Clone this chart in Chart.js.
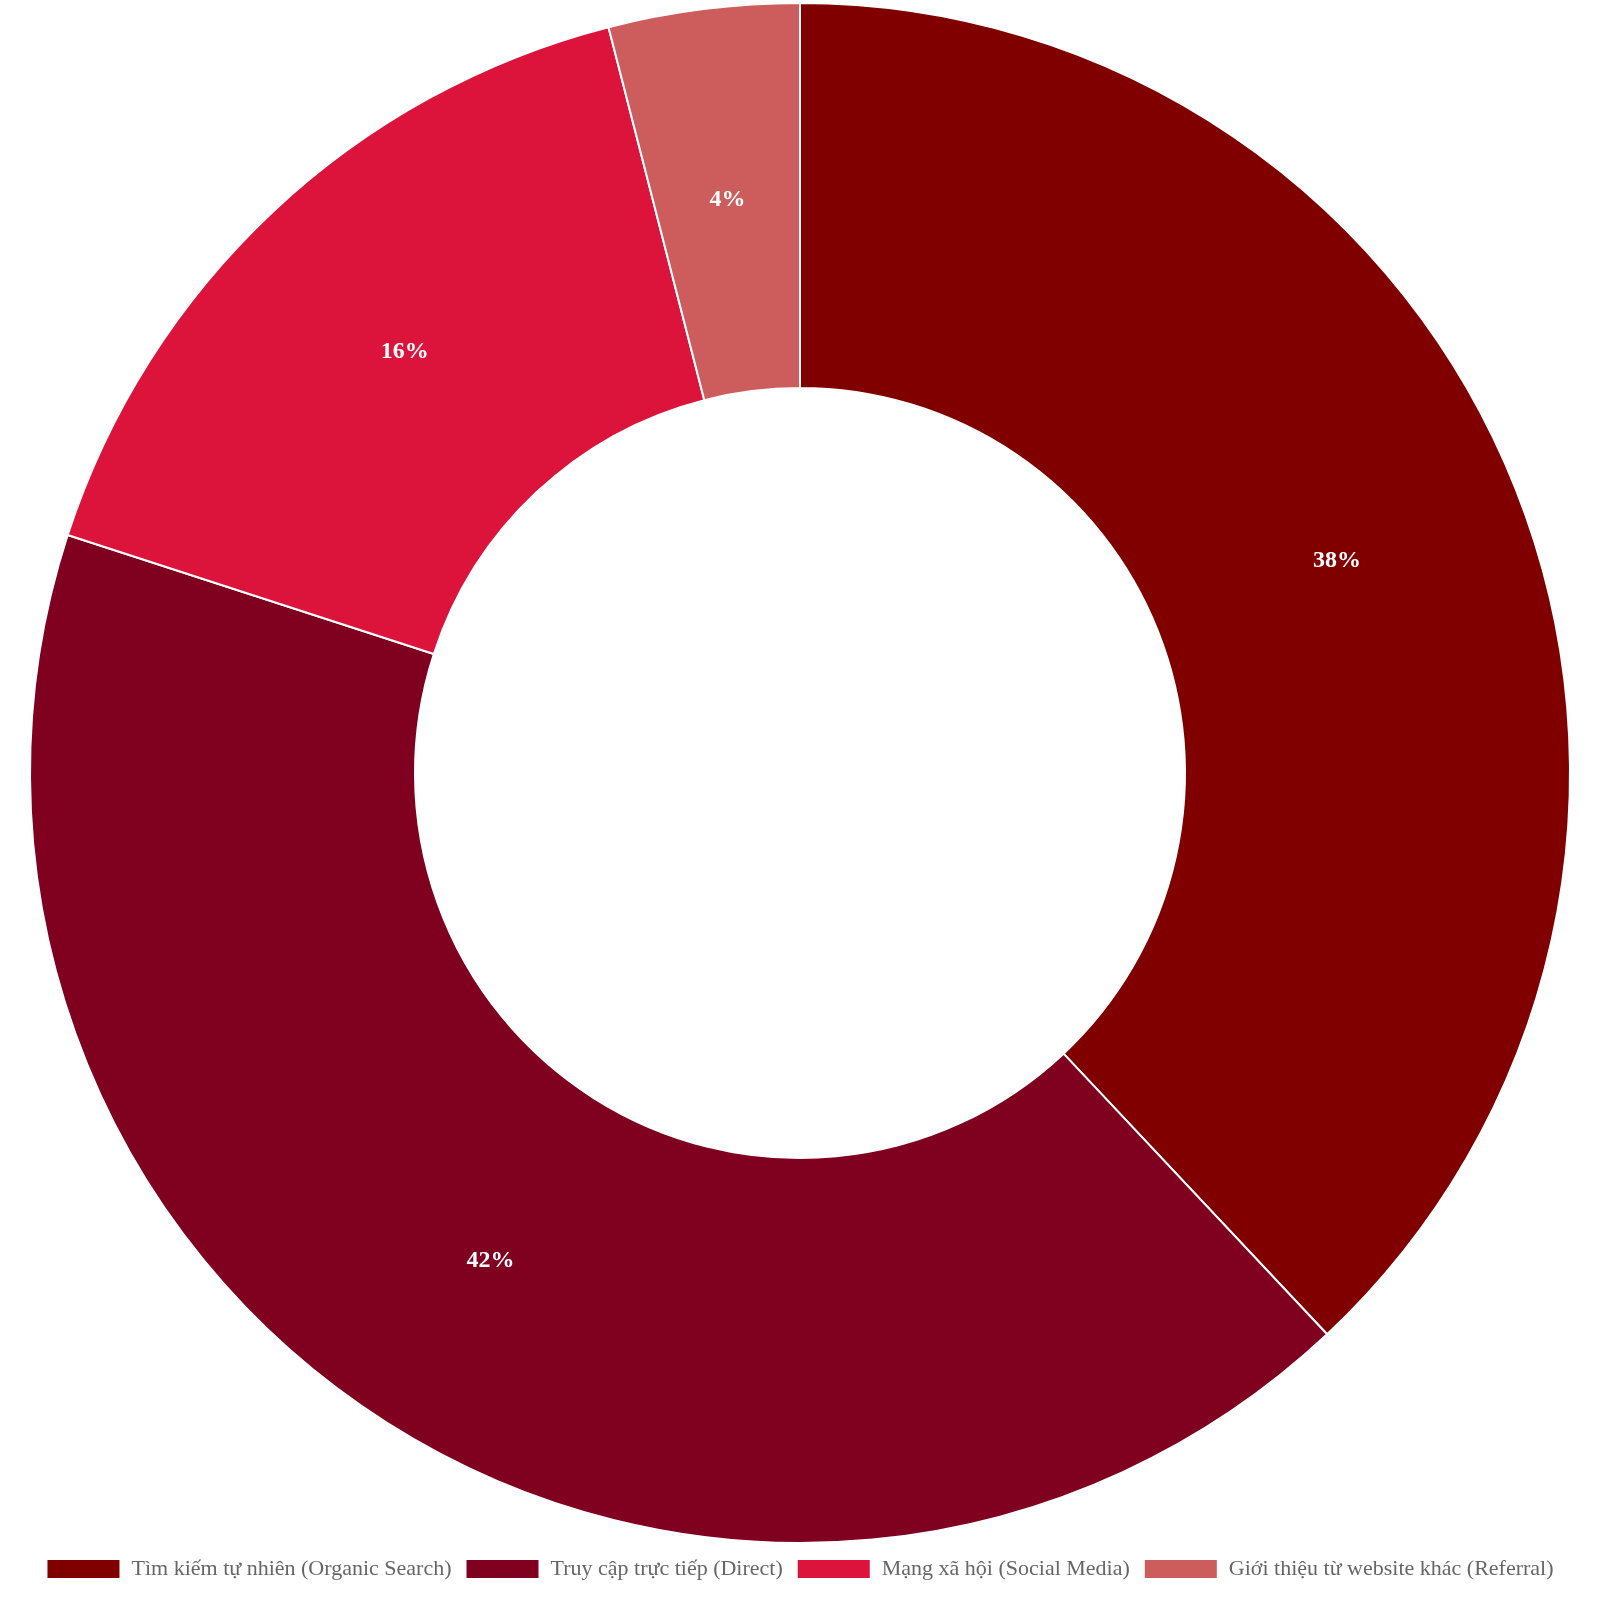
<!DOCTYPE html>
<html><head><meta charset="utf-8">
<script src="https://cdn.jsdelivr.net/npm/chart.js@4"></script>
<style>html,body{margin:0;background:#fff}#w{width:1600px;height:1600px}</style>
</head><body><div id="w"><canvas id="c"></canvas></div>
<script>
const categories = ["Tìm kiếm tự nhiên (Organic Search)","Truy cập trực tiếp (Direct)","Mạng xã hội (Social Media)","Giới thiệu từ website khác (Referral)"];
const values = [38,42,16,4];
const colors = ["#800000","#800020","#DC143C","#CD5C5C"];
const labelPlugin = {id:'lbl',afterDatasetsDraw(chart){
  const ctx=chart.ctx; const meta=chart.getDatasetMeta(0);
  const total=values.reduce((a,b)=>a+b,0);
  ctx.save(); ctx.fillStyle='#fff'; ctx.font='bold 24px "Liberation Serif"';
  ctx.textAlign='center'; ctx.textBaseline='middle';
  meta.data.forEach((a,i)=>{const p=a.tooltipPosition();
    ctx.fillText(Math.round(values[i]/total*100)+'%',p.x,p.y);});
  ctx.restore();}};
new Chart(document.getElementById('c'),{type:'doughnut',
 data:{labels:categories,datasets:[{data:values,backgroundColor:colors,borderColor:'#fff',borderWidth:2}]},
 options:{responsive:true,maintainAspectRatio:false,animation:false,cutout:'50%',
  layout:{padding:{top:2,bottom:10}},
  plugins:{tooltip:{enabled:false},
   legend:{position:'bottom',labels:{boxWidth:74,boxHeight:20,padding:14,color:'#666',font:{family:'"Liberation Serif"',size:22}}}}},
 plugins:[labelPlugin]});
</script></body></html>
